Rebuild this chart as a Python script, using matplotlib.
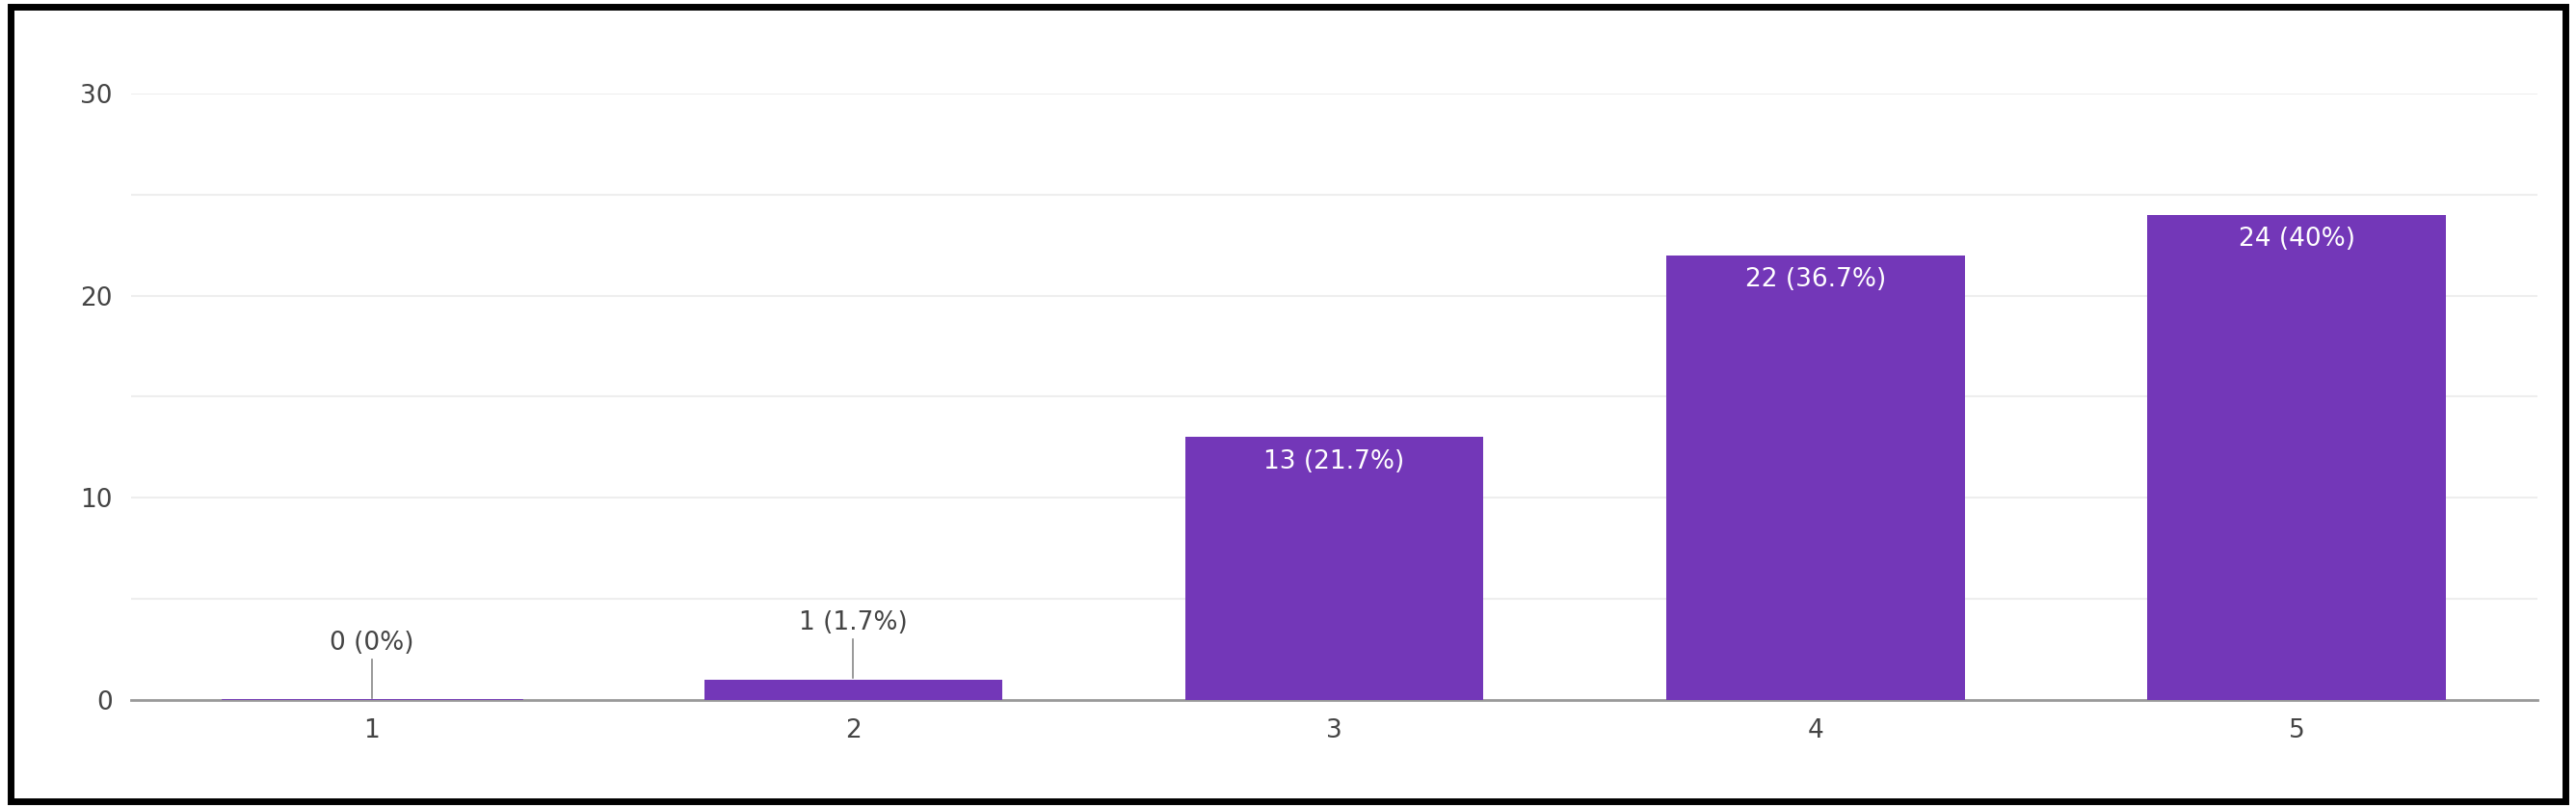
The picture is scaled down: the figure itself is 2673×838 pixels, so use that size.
import matplotlib.pyplot as plt
from matplotlib.patches import Rectangle

categories = ['1', '2', '3', '4', '5']
counts = [0, 1, 13, 22, 24]
percents = ['0%', '1.7%', '21.7%', '36.7%', '40%']

BAR_COLOR = '#7337b8'
TEXT_COLOR = '#444444'

fig = plt.figure(figsize=(26.73, 8.38), dpi=100)
ax = fig.add_axes([0.051, 0.134, 0.934, 0.75])

x = list(range(1, len(categories) + 1))
ax.bar(x, counts, width=0.62, color=BAR_COLOR, zorder=3)
# zero-height bar still shows a thin line
ax.plot([x[0] - 0.31, x[0] + 0.31], [0, 0], color=BAR_COLOR, lw=2, zorder=4)

for xi, c, p in zip(x, counts, percents):
    label = f'{c} ({p})'
    if c >= 5:
        ax.text(xi, c - 0.6, label, ha='center', va='top', color='white', fontsize=19, zorder=5)
    else:
        ax.plot([xi, xi], [c + 0.1, c + 2.0], color='#888888', lw=1.2, zorder=5)
        ax.text(xi, c + 2.2, label, ha='center', va='bottom', color=TEXT_COLOR, fontsize=19, zorder=5)

ax.set_xlim(0.5, 5.5)
ax.set_ylim(0, 30)
ax.set_yticks([0, 10, 20, 30])
ax.set_yticks([5, 15, 25], minor=True)
ax.set_xticks(x)
ax.set_xticklabels(categories)
ax.grid(axis='y', which='both', color='#eeeeee', lw=1.5, zorder=0)
ax.tick_params(axis='both', length=0, labelsize=19, labelcolor=TEXT_COLOR, pad=14)
ax.tick_params(axis='y', which='minor', length=0)
for side in ['top', 'right', 'left']:
    ax.spines[side].set_visible(False)
ax.spines['bottom'].set_color('#999999')
ax.spines['bottom'].set_linewidth(2)

fig.patches.append(Rectangle((0.004, 0.008), 0.992, 0.984, transform=fig.transFigure,
                             fill=False, edgecolor='black', lw=5))

fig.savefig('out.png', dpi=100)
